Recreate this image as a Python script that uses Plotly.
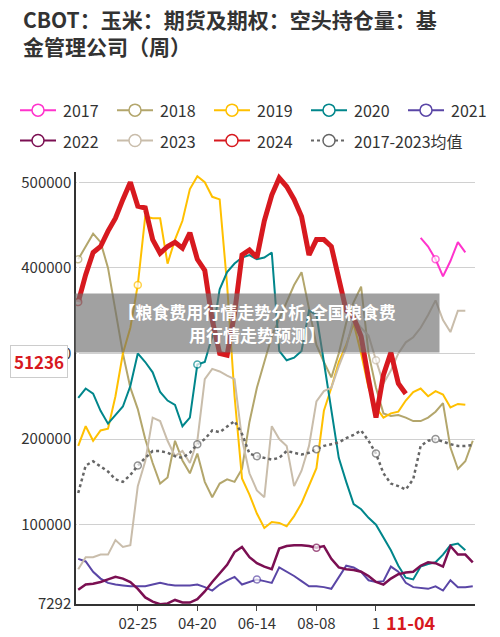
import plotly.graph_objects as go

weeks = list(range(54))
tick_idx = [8, 16, 24, 32, 40]
tick_text = ['02-25', '04-20', '06-14', '08-08', '1']
y_ticks = [7292, 100000, 200000, 300000, 400000, 500000]

N = None
# values in thousands
s2017 = [N] * 46 + [435, 425, 410, 390, 408, 430, 418, N]
s2018 = [410, 425, 440, 430, 400, 350, 300, 260, 235, 200, 172, 148, 155, 198, 175, 160, 183, 150, 132, 148,
         153, 150, 165, 220, 260, 290, 320, 340, 360, 380, 395, 354, 310, 290, 272, 300, 336, 360, 378, 300,
         260, 230, 227, 228, 225, 221, 221, 225, 232, 242, 190, 165, 174, 198]
s2019 = [192, 215, 198, 210, 212, 250, 300, 330, 380, 460, 458, 458, 405, 433, 455, 492, 507, 500, 483, 480,
         380, 250, 154, 135, 113, 96, 103, 102, 98, 110, 125, 145, 166, 233, 260, 290, 310, 335, 300, 260,
         237, 225, 230, 232, 245, 255, 259, 250, 256, 252, 237, 241, 240, N]
s2020 = [248, 259, 253, 233, 218, 228, 238, 262, 300, 290, 278, 255, 245, 240, 215, 225, 287, 290, 320, 375,
         395, 405, 412, 415, 410, 412, 418, 303, 292, 295, 303, 350, 345, 290, 233, 178, 150, 124, 118, 108,
         100, 85, 70, 52, 38, 36, 51, 54, 56, 65, 76, 78, 70, N]
s2021 = [60, 57, 45, 37, 32, 30, 29, 28, 28, 28, 30, 32, 30, 29, 29, 29, 30, 27, 23, 30,
         35, 39, 30, 33, 36, 34, 32, 50, 45, 40, 34, 28, 28, 27, 25, 38, 52, 50, 45, 35,
         33, 34, 51, 45, 32, 27, 26, 25, 28, 23, 35, 27, 27, 28]
s2022 = [24, 30, 31, 33, 36, 39, 37, 33, 25, 15, 10, 7, 8, 12, 9, 9, 13, 22, 33, 43,
         53, 68, 74, 62, 55, 51, 48, 72, 75, 76, 76, 75, 73, 75, 60, 50, 48, 47, 45, 40,
         33, 30, 37, 42, 44, 45, 52, 56, 55, 51, 75, 65, 65, 56]
s2023 = [48, 62, 62, 65, 65, 82, 74, 76, 145, 174, 225, 221, 198, 180, 186, 172, 198, 270, 282, 279,
         274, 270, 200, 160, 140, 132, 215, 200, 192, 145, 163, 192, 244, 256, 260, 285, 307, 341, 330, 321,
         292, 265, 280, 300, 313, 319, 330, 345, 362, 339, 325, 350, 350, N]
s2024 = [360, 392, 418, 425, 443, 458, 480, 500, 472, 470, 433, 417, 425, 430, 423, 441, 410, 397, 339, 300,
         298, 347, 415, 421, 412, 455, 485, 505, 495, 480, 460, 415, 433, 433, 425, 385, 350, 342, 320, 270,
         225, 275, 301, 265, 253] + [N] * 9
s_mean = [137, 169, 174, 168, 162, 153, 150, 158, 169, 178, 186, 186, 184, 180, 178, 184, 194, 200, 210, 208,
          215, 221, 206, 183, 180, 178, 176, 178, 186, 184, 182, 184, 188, 192, 194, 196, 201, 205, 210, 198,
          183, 160, 148, 145, 141, 153, 192, 198, 200, 197, 194, 192, 192, 193]

series = [
    ('2017', s2017, '#ff33cc', 2, 'solid', [48]),
    ('2018', s2018, '#b3a66c', 2, 'solid', [0]),
    ('2019', s2019, '#ffc000', 2, 'solid', [8]),
    ('2020', s2020, '#00868b', 2, 'solid', [16]),
    ('2021', s2021, '#5a46a6', 2, 'solid', [24]),
    ('2022', s2022, '#7b0f52', 2.5, 'solid', [32]),
    ('2023', s2023, '#c9bdab', 2, 'solid', [40]),
    ('2024', s2024, '#d7191f', 5, 'solid', [0]),
    ('2017-2023均值', s_mean, '#666666', 2.5, 'dot', [8, 16, 24, 32, 40, 48]),
]

L, T, W, H = 68, 164, 399, 440


def px(x, y):
    return (x - L) / W, (T + H - y) / H


fig = go.Figure()
for k, (name, vals, color, w, dash, marks) in enumerate(series):
    y = [v * 1000 if v is not None else None for v in vals]
    sizes = [7 if i in marks else 0 for i in weeks]
    fig.add_trace(go.Scatter(
        x=weeks, y=y, name=name, mode='lines+markers',
        line=dict(color=color, width=w, dash=dash),
        marker=dict(size=sizes, color='white', line=dict(color=color, width=1.5)),
    ))
    # hand-drawn legend, 5 per row
    col, row = k % 5, k // 5
    lx, ly = 12 + col * 97, 101 + row * 31
    x0, y0 = px(lx, ly)
    x1, _ = px(lx + 36, ly)
    xc, _ = px(lx + 18, ly)
    fig.add_shape(type='line', xref='paper', yref='paper', x0=x0, x1=x1, y0=y0, y1=y0,
                  line=dict(color=color, width=2, dash='dot' if dash == 'dot' else 'solid'))
    fig.add_shape(type='circle', xref='paper', yref='paper', xsizemode='pixel', ysizemode='pixel',
                  xanchor=xc, yanchor=y0, x0=-6, x1=6, y0=-6, y1=6,
                  fillcolor='white', line=dict(color=color, width=1.5))
    fig.add_annotation(x=px(lx + 41, ly)[0], y=y0, xref='paper', yref='paper', xanchor='left',
                       yanchor='middle', text=name, showarrow=False, font=dict(size=16, color='#333333'))

fig.add_annotation(x=44.7, y=0, xref='x', yref='paper', yshift=-18, yanchor='middle', text='<b>11-04</b>',
                   showarrow=False, font=dict(color='#d7191f', size=18))
fig.add_annotation(x=-0.02, y=px(0, 357)[1], xref='paper', yref='paper', xanchor='right', yanchor='middle',
                   text='<b>51236</b>', showarrow=False, font=dict(color='#d7191f', size=17),
                   bgcolor='white', bordercolor='#cccccc', borderwidth=1, borderpad=3)
fig.add_annotation(x=px(249, 0)[0], y=px(0, 318)[1], xref='paper', yref='paper', yanchor='middle',
                   text='<b>【粮食费用行情走势分析,全国粮食费<br>用行情走势预测】</b>',
                   showarrow=False, font=dict(color='white', size=17), bgcolor='rgba(110,110,110,0.65)',
                   width=362, height=56, align='center')

fig.update_layout(
    width=500, height=637,
    margin=dict(l=L, r=500 - L - W, t=T, b=637 - T - H),
    paper_bgcolor='white', plot_bgcolor='white',
    font=dict(family='Noto Sans CJK SC', color='#333333'),
    title=dict(text='<b>CBOT：玉米：期货及期权：空头持仓量：基<br>金管理公司（周）</b>',
               x=0.03, xanchor='left', y=1 - 20 / 637, yanchor='top', font=dict(size=21, color='#333333')),
    showlegend=False,
)
fig.update_xaxes(range=[-0.3, 53.3], tickvals=tick_idx, ticktext=tick_text, ticks='outside',
                 ticklen=5, showgrid=False, showline=True, linecolor='#333333', linewidth=1.5,
                 tickfont=dict(size=15, color='#333333'))
fig.update_yaxes(range=[7292, 512000], tickvals=y_ticks, ticktext=[str(v) for v in y_ticks],
                 showgrid=True, gridcolor='#d0d0d0',
                 showline=True, linecolor='#333333', linewidth=1.5, zeroline=False,
                 tickfont=dict(size=15, color='#333333'))

fig.write_html('out.html')
